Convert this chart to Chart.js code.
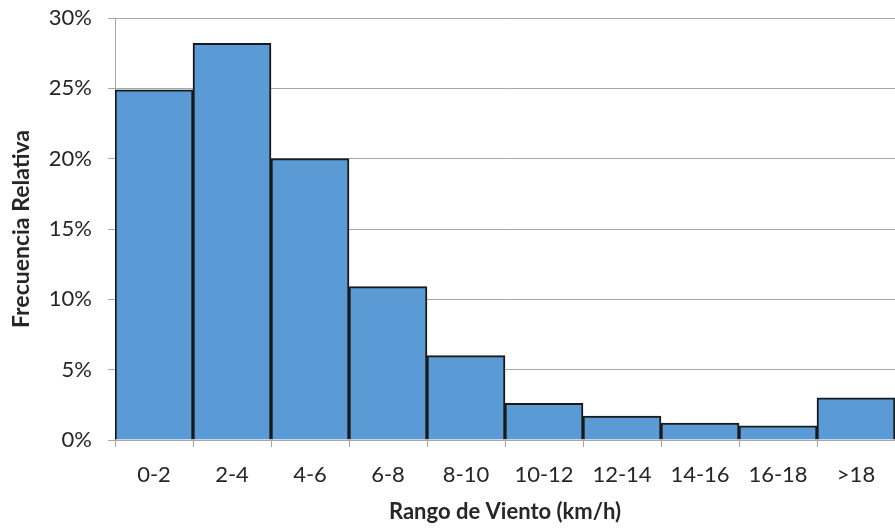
<!DOCTYPE html>
<html>
<head>
<meta charset="utf-8">
<script src="https://cdn.jsdelivr.net/npm/chart.js@4/dist/chart.umd.min.js"></script>
<style>
  html, body { margin: 0; padding: 0; background: #fff; }
  #wrap { width: 895px; height: 529px; }
</style>
</head>
<body>
<div id="wrap"><canvas id="histChart"></canvas></div>
<script>
// ------------------- Data -------------------//
var categories = ['0-2', '2-4', '4-6', '6-8', '8-10', '10-12', '12-14', '14-16', '16-18', '>18'];
var frequencies = [24.9, 28.2, 20.0, 10.9, 6.0, 2.6, 1.7, 1.2, 1.0, 3.0];
var yTicks = [0, 5, 10, 15, 20, 25, 30];

var xTitle = 'Rango de Viento (km/h)';
var yTitle = 'Frecuencia Relativa';

// ------------------- Chart -------------------//
var ctx = document.getElementById('histChart');
var textColor = '#262626';
var gridColor = '#a6a6a6';
var baseFont = 'Lato, Liberation Sans, Arial, sans-serif';

var histChart = new Chart(ctx, {
    type: 'bar',
    data: {
        labels: categories,
        datasets: [{
            label: yTitle,
            data: frequencies,
            backgroundColor: '#5b9bd5',
            borderColor: '#1a1a1a',
            borderWidth: 2,
            barPercentage: 1.0,
            categoryPercentage: 1.0
        }]
    },
    options: {
        responsive: true,
        maintainAspectRatio: false,
        animation: false,
        layout: { padding: { top: 18, right: 0, left: 0, bottom: 0 } },
        plugins: {
            legend: { display: false },
            tooltip: { enabled: false }
        },
        scales: {
            x: {
                offset: true,
                grid: {
                    display: true,
                    drawOnChartArea: false,
                    drawTicks: true,
                    tickLength: 7,
                    color: gridColor,
                    offset: true
                },
                border: { color: gridColor, width: 1 },
                ticks: {
                    color: textColor,
                    font: { family: baseFont, size: 22 },
                    padding: 15,
                    maxRotation: 0
                },
                title: {
                    display: true,
                    text: xTitle,
                    color: textColor,
                    font: { family: baseFont, size: 22, weight: 'bold' },
                    padding: { top: 4 }
                },
                afterFit: function(scale) {
                    scale.height = 89;
                    scale.paddingLeft = 0;
                    scale.paddingRight = 0;
                }
            },
            y: {
                min: 0,
                max: 30,
                afterBuildTicks: function(scale) {
                    scale.ticks = yTicks.map(function(v) { return { value: v }; });
                },
                grid: {
                    color: gridColor,
                    tickLength: 7,
                    lineWidth: 1
                },
                border: { color: gridColor, width: 1 },
                ticks: {
                    color: textColor,
                    font: { family: baseFont, size: 22 },
                    padding: 16,
                    callback: function(v) { return v + '%'; }
                },
                title: {
                    display: true,
                    text: yTitle,
                    color: textColor,
                    font: { family: baseFont, size: 23, weight: 'bold' },
                    padding: { top: 8, bottom: 4 }
                },
                afterFit: function(scale) {
                    scale.width = 115;
                    scale.paddingTop = 0;
                    scale.paddingBottom = 0;
                }
            }
        }
    }
});
</script>
</body>
</html>
